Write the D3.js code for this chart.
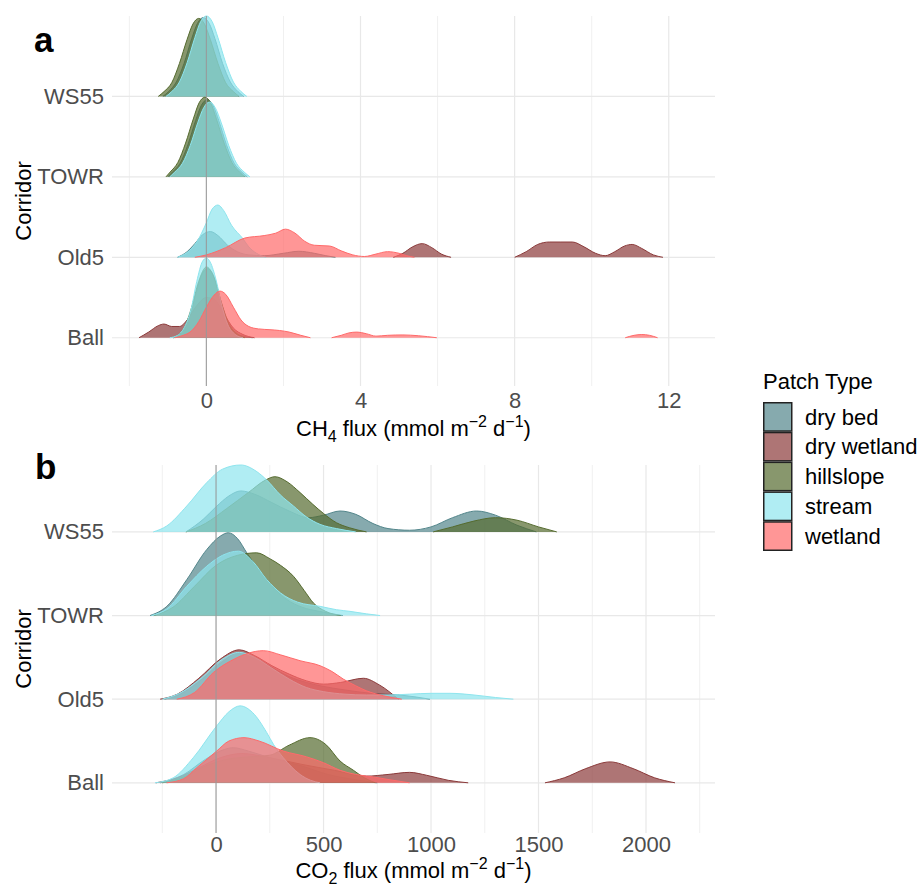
<!DOCTYPE html>
<html>
<head>
<meta charset="utf-8">
<script src="https://cdn.jsdelivr.net/npm/d3@7"></script>
<style>
  body { margin: 0; background: #fff; }
  svg text { font-family: "Liberation Sans", Arial, sans-serif; }
</style>
</head>
<body>
<svg id="chart" width="921" height="893"></svg>
<script>
// Corridors from bottom (1) to top (4)
const corridors = ["Ball", "Old5", "TOWR", "WS55"];
const patchTypes = ["dry bed", "dry wetland", "hillslope", "stream", "wetland"];
const patchColors = ["#53868B", "#8B3A3A", "#556B2F", "#8EE5EE", "#FF6A6A"];

const ch4Ticks = [0, 4, 8, 12];
const ch4Minor = [-2, 2, 6, 10];
const co2Ticks = [0, 500, 1000, 1500, 2000];
const co2Minor = [-250, 250, 750, 1250, 1750, 2250];

// Ridge profiles: [flux, height in row units], null = gap
const ch4WS55 = {
  "dry bed": [[-1.13,0],[-0.98,0.06],[-0.78,0.18],[-0.58,0.41],[-0.38,0.72],[-0.23,0.91],[-0.08,0.98],[0.07,0.91],[0.22,0.72],[0.42,0.41],[0.62,0.18],[0.82,0.06],[0.97,0]],
  "hillslope": [[-1.25,0],[-1.1,0.06],[-0.9,0.17],[-0.7,0.41],[-0.5,0.71],[-0.35,0.9],[-0.2,0.97],[-0.05,0.9],[0.1,0.71],[0.3,0.41],[0.5,0.17],[0.7,0.06],[0.85,0]],
  "stream": [[-1.05,0],[-0.9,0.06],[-0.7,0.18],[-0.5,0.42],[-0.3,0.73],[-0.15,0.93],[0,1],[0.15,0.93],[0.3,0.73],[0.5,0.42],[0.7,0.18],[0.9,0.06],[1.05,0]]
};
const ch4TOWR = {
  "dry bed": [[-1.0,0],[-0.88,0.06],[-0.68,0.17],[-0.48,0.4],[-0.28,0.7],[-0.13,0.89],[0.02,0.96],[0.17,0.89],[0.32,0.7],[0.52,0.4],[0.72,0.17],[0.92,0.06],[1.06,0]],
  "hillslope": [[-1.05,0],[-0.94,0.06],[-0.74,0.18],[-0.54,0.42],[-0.34,0.72],[-0.19,0.92],[-0.04,0.99],[0.11,0.92],[0.26,0.72],[0.46,0.42],[0.66,0.18],[0.86,0.06],[1.0,0]],
  "stream": [[-0.95,0],[-0.82,0.06],[-0.62,0.17],[-0.42,0.39],[-0.22,0.68],[-0.07,0.86],[0.08,0.93],[0.23,0.86],[0.38,0.68],[0.58,0.39],[0.78,0.17],[0.98,0.06],[1.13,0]]
};
const ch4Old5 = {
  "dry bed": [[-0.75,0],[-0.5,0.07],[-0.3,0.17],[-0.1,0.28],[0.1,0.32],[0.3,0.27],[0.55,0.15],[0.8,0.07],[1.1,0.03],[1.5,0.02],[2.0,0.05],[2.4,0.075],[2.8,0.05],[3.1,0.02],[3.35,0]],
  "dry wetland": [[4.85,0],[5.1,0.05],[5.35,0.13],[5.6,0.17],[5.85,0.12],[6.1,0.04],[6.35,0],[7,null],[8.0,0],[8.3,0.07],[8.6,0.16],[8.9,0.19],[9.2,0.19],[9.5,0.19],[9.8,0.13],[10.1,0.05],[10.35,0.02],[10.6,0.07],[10.85,0.14],[11.05,0.16],[11.3,0.11],[11.6,0.03],[11.85,0]],
  "stream": [[-0.75,0],[-0.5,0.06],[-0.25,0.19],[0,0.43],[0.15,0.6],[0.3,0.65],[0.45,0.58],[0.65,0.4],[0.95,0.23],[1.1,0.13],[1.3,0.05],[1.55,0]],
  "wetland": [[-0.3,0],[0,0.03],[0.5,0.12],[1.0,0.24],[1.5,0.27],[1.8,0.3],[2.05,0.35],[2.3,0.3],[2.55,0.2],[2.8,0.15],[3.2,0.14],[3.5,0.08],[3.8,0.03],[4.1,0.01],[4.4,0.04],[4.7,0.07],[5.0,0.05],[5.2,0.02],[5.4,0]]
};
const ch4Ball = {
  "dry bed": [[-0.85,0],[-0.7,0.05],[-0.5,0.18],[-0.3,0.5],[-0.15,0.75],[0.03,0.86],[0.2,0.75],[0.35,0.5],[0.55,0.2],[0.75,0.06],[0.95,0.02],[1.2,0]],
  "dry wetland": [[-1.75,0],[-1.5,0.07],[-1.25,0.15],[-1.1,0.17],[-0.9,0.14],[-0.7,0.14],[-0.5,0.22],[-0.25,0.4],[0,0.5],[0.2,0.48],[0.45,0.3],[0.7,0.12],[0.95,0.04],[1.25,0]],
  "hillslope": [[-0.85,0],[-0.6,0.1],[-0.4,0.35],[-0.2,0.7],[0,0.88],[0.2,0.75],[0.4,0.42],[0.6,0.16],[0.8,0.05],[1.0,0]],
  "stream": [[-0.95,0],[-0.75,0.03],[-0.55,0.15],[-0.4,0.35],[-0.25,0.7],[-0.1,0.95],[0,0.99],[0.1,0.94],[0.25,0.72],[0.4,0.4],[0.55,0.17],[0.75,0.04],[0.95,0]],
  "wetland": [[-0.82,0],[-0.6,0.03],[-0.4,0.08],[-0.2,0.2],[0,0.38],[0.2,0.53],[0.35,0.58],[0.5,0.54],[0.7,0.38],[0.9,0.22],[1.1,0.14],[1.35,0.11],[1.65,0.1],[1.9,0.09],[2.15,0.07],[2.45,0.03],[2.7,0],[2.95,null],[3.25,0],[3.5,0.03],[3.7,0.06],[3.9,0.07],[4.15,0.05],[4.4,0.02],[4.7,0.03],[5.1,0.035],[5.5,0.025],[5.98,0],[8,null],[10.87,0],[11.1,0.03],[11.3,0.04],[11.5,0.03],[11.71,0]]
};

const co2WS55 = {
  "dry bed": [[-140,0],[-60,0.15],[0,0.3],[60,0.43],[115,0.49],[180,0.45],[260,0.35],[340,0.25],[430,0.17],[500,0.2],[577,0.25],[650,0.21],[730,0.1],[800,0.04],[900,0.02],[1000,0.06],[1100,0.17],[1212,0.25],[1300,0.2],[1400,0.08],[1490,0]],
  "hillslope": [[-140,0],[-50,0.1],[50,0.28],[150,0.47],[230,0.62],[274,0.66],[330,0.6],[391,0.47],[450,0.33],[500,0.22],[560,0.11],[620,0.05],[700,0],[850,null],[1010,0],[1100,0.06],[1200,0.13],[1300,0.17],[1400,0.14],[1500,0.06],[1585,0]],
  "stream": [[-292,0],[-230,0.07],[-136,0.31],[-43,0.59],[30,0.75],[115,0.8],[190,0.72],[236,0.62],[300,0.44],[360,0.31],[420,0.18],[484,0.09],[560,0.04],[650,0]]
};
const co2TOWR = {
  "dry bed": [[-307,0],[-229,0.11],[-136,0.43],[-43,0.79],[20,0.95],[57,0.99],[100,0.92],[143,0.75],[190,0.58],[236,0.43],[280,0.3],[330,0.19],[400,0.1],[480,0.05],[590,0]],
  "hillslope": [[-290,0],[-200,0.1],[-100,0.35],[0,0.6],[100,0.72],[189,0.75],[250,0.68],[300,0.6],[360,0.47],[410,0.3],[453,0.15],[510,0.05],[580,0]],
  "stream": [[-300,0],[-229,0.08],[-136,0.35],[-43,0.59],[30,0.72],[104,0.77],[170,0.65],[236,0.43],[300,0.27],[380,0.16],[484,0.11],[560,0.07],[623,0.05],[700,0.02],[763,0]]
};
const co2Old5 = {
  "dry bed": [[-240,0],[-160,0.07],[-60,0.25],[30,0.45],[108,0.56],[180,0.5],[260,0.38],[340,0.27],[420,0.2],[484,0.16],[600,0.11],[720,0.07],[856,0.05],[995,0]],
  "dry wetland": [[-260,0],[-180,0.06],[-80,0.25],[20,0.48],[108,0.59],[180,0.52],[260,0.4],[340,0.3],[420,0.22],[500,0.18],[580,0.2],[685,0.25],[760,0.17],[848,0]],
  "stream": [[-250,0],[-170,0.07],[-70,0.25],[30,0.48],[108,0.56],[180,0.5],[260,0.37],[340,0.24],[420,0.14],[500,0.09],[600,0.06],[700,0.05],[800,0.05],[900,0.06],[1000,0.07],[1088,0.07],[1200,0.05],[1300,0.02],[1383,0]],
  "wetland": [[-183,0],[-100,0.08],[-12,0.32],[85,0.48],[150,0.55],[220,0.58],[300,0.53],[391,0.46],[484,0.4],[540,0.33],[592,0.24],[650,0.16],[700,0.1],[780,0.04],[864,0]]
};
const co2Ball = {
  "dry bed": [[-260,0],[-150,0.1],[-50,0.28],[40,0.4],[80,0.42],[150,0.38],[250,0.3],[400,0.2],[520,0.1],[640,0.04],[750,0]],
  "dry wetland": [[-280,0],[-180,0.06],[-80,0.18],[20,0.3],[120,0.35],[250,0.3],[400,0.22],[550,0.15],[700,0.08],[800,0.1],[900,0.125],[980,0.09],[1080,0.03],[1173,0],[1350,null],[1530,0],[1620,0.06],[1720,0.17],[1833,0.25],[1940,0.17],[2040,0.06],[2135,0]],
  "hillslope": [[-250,0],[-150,0.07],[-50,0.2],[50,0.28],[150,0.31],[250,0.33],[340,0.45],[437,0.54],[510,0.46],[577,0.26],[639,0.15],[690,0.06],[740,0]],
  "stream": [[-284,0],[-199,0.06],[-106,0.3],[3,0.68],[60,0.85],[112,0.92],[170,0.84],[236,0.6],[267,0.46],[313,0.3],[391,0.1],[440,0.03],[484,0]],
  "wetland": [[-230,0],[-150,0.05],[-90,0.18],[3,0.38],[60,0.5],[130,0.54],[200,0.5],[313,0.38],[422,0.31],[500,0.24],[577,0.15],[650,0.1],[732,0.07],[800,0.04],[900,0]]
};

const svg = d3.select("#chart");
const color = d3.scaleOrdinal().domain(patchTypes).range(patchColors);
const left = 112, right = 715;

function drawPanel(p) {
  const g = svg.append("g");
  const x = d3.scaleLinear().domain(p.xDomain).range([left, right]);
  const y = d3.scaleLinear().domain(p.yDomain).range([p.bottom, p.top]);

  // grid
  g.append("g").selectAll("line").data(p.minor).join("line")
    .attr("x1", d => x(d)).attr("x2", d => x(d))
    .attr("y1", p.top).attr("y2", p.bottom)
    .attr("stroke", "#f0f0f0").attr("stroke-width", 1);
  g.append("g").selectAll("line").data(p.ticks).join("line")
    .attr("x1", d => x(d)).attr("x2", d => x(d))
    .attr("y1", p.top).attr("y2", p.bottom)
    .attr("stroke", "#e8e8e8").attr("stroke-width", 1.2);
  g.append("g").selectAll("line").data([1, 2, 3, 4]).join("line")
    .attr("x1", left).attr("x2", right)
    .attr("y1", d => y(d)).attr("y2", d => y(d))
    .attr("stroke", "#e8e8e8").attr("stroke-width", 1.2);

  // axes
  const xAxis = g.append("g")
    .attr("transform", `translate(0,${p.bottom})`)
    .call(d3.axisBottom(x).tickValues(p.ticks).tickSize(0).tickPadding(p.tickPad).tickFormat(d3.format("d")));
  xAxis.select(".domain").remove();
  xAxis.selectAll("text").attr("font-size", 22).attr("fill", "#4d4d4d")
    .style("font-family", "'Liberation Sans', Arial, sans-serif");

  const yAxis = g.append("g")
    .attr("transform", `translate(${left},0)`)
    .call(d3.axisLeft(y).tickValues([1, 2, 3, 4]).tickSize(0).tickPadding(8).tickFormat(i => corridors[i - 1]));
  yAxis.select(".domain").remove();
  yAxis.selectAll("text").attr("font-size", 22).attr("fill", "#4d4d4d")
    .style("font-family", "'Liberation Sans', Arial, sans-serif");

  // ridges, top row first so lower rows overlay
  for (let r = 4; r >= 1; r--) {
    const rowData = p.rows[r - 1];
    patchTypes.forEach(type => {
      const pts = rowData[type];
      if (!pts) return;
      const area = d3.area()
        .defined(d => d[1] != null)
        .x(d => x(d[0]))
        .y0(y(r))
        .y1(d => y(r + d[1]))
        .curve(d3.curveMonotoneX);
      const line = d3.line()
        .defined(d => d[1] != null)
        .x(d => x(d[0]))
        .y(d => y(r + d[1]))
        .curve(d3.curveMonotoneX);
      g.append("path").attr("d", area(pts))
        .attr("fill", color(type)).attr("fill-opacity", 0.7);
      g.append("path").attr("d", line(pts))
        .attr("fill", "none").attr("stroke", color(type)).attr("stroke-width", 1);
    });
  }

  // zero reference line
  g.append("line")
    .attr("x1", x(0)).attr("x2", x(0))
    .attr("y1", p.top).attr("y2", p.bottom)
    .attr("stroke", "#999").attr("stroke-opacity", 0.85).attr("stroke-width", 1.2);

  // panel letter
  g.append("text").attr("x", p.letterX).attr("y", p.letterY)
    .attr("font-size", 35).attr("font-weight", "bold").attr("fill", "#000")
    .text(p.letter);

  // y title
  g.append("text")
    .attr("transform", `translate(31,${(p.top + p.bottom) / 2}) rotate(-90)`)
    .attr("text-anchor", "middle").attr("font-size", 22).attr("fill", "#000")
    .text("Corridor");

  // x title with sub/superscripts
  const t = g.append("text")
    .attr("x", (left + right) / 2).attr("y", p.titleY)
    .attr("text-anchor", "middle").attr("font-size", 22).attr("fill", "#000");
  t.append("tspan").text(p.gas);
  t.append("tspan").attr("font-size", 16).attr("dy", 6).text(p.sub);
  t.append("tspan").attr("dy", -6).text(" flux (mmol m");
  t.append("tspan").attr("font-size", 16).attr("dy", -9).text("\u22122");
  t.append("tspan").attr("dy", 9).text(" d");
  t.append("tspan").attr("font-size", 16).attr("dy", -9).text("\u22121");
  t.append("tspan").attr("dy", 9).text(")");
}

drawPanel({
  letter: "a", letterX: 34, letterY: 52,
  top: 16, bottom: 386, yDomain: [0.4, 5.0],
  xDomain: [-2.45, 13.2], ticks: ch4Ticks, minor: ch4Minor, tickPad: 6,
  rows: [ch4Ball, ch4Old5, ch4TOWR, ch4WS55],
  gas: "CH", sub: "4", titleY: 436
});

drawPanel({
  letter: "b", letterX: 35, letterY: 479,
  top: 465, bottom: 833, yDomain: [0.4, 4.8],
  xDomain: [-484, 2321], ticks: co2Ticks, minor: co2Minor, tickPad: 3,
  rows: [co2Ball, co2Old5, co2TOWR, co2WS55],
  gas: "CO", sub: "2", titleY: 878
});

// Legend
const legend = svg.append("g").attr("transform", "translate(763,0)");
legend.append("text").attr("x", 0).attr("y", 389)
  .attr("font-size", 22).attr("fill", "#000").text("Patch Type");
const keyH = 29.8;
const items = legend.selectAll("g.item").data(patchTypes).join("g")
  .attr("class", "item")
  .attr("transform", (d, i) => `translate(0,${402 + i * keyH})`);
items.append("rect")
  .attr("x", 0.75).attr("y", 0.75).attr("width", 28).attr("height", keyH - 1.5)
  .attr("fill", d => color(d)).attr("fill-opacity", 0.7)
  .attr("stroke", "#222").attr("stroke-width", 1.5);
items.append("text").attr("x", 42).attr("y", keyH / 2).attr("dy", "0.35em")
  .attr("font-size", 22).attr("fill", "#000").text(d => d);
</script>
</body>
</html>
